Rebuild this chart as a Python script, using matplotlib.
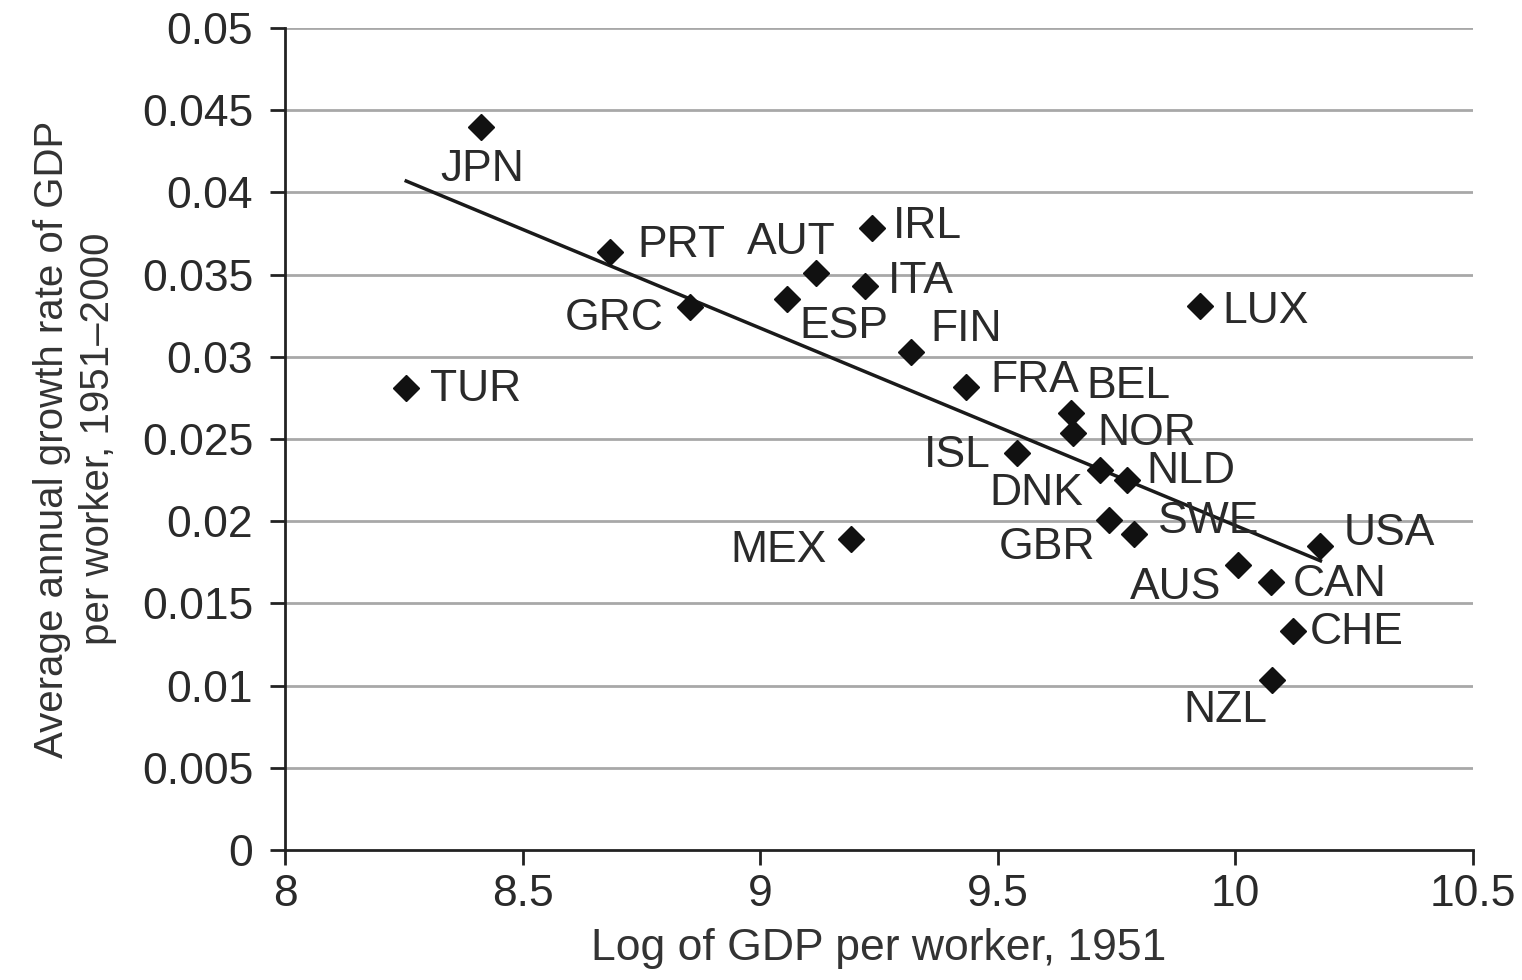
import numpy as np
import matplotlib.pyplot as plt

#* Data
countries = ['JPN', 'PRT', 'GRC', 'TUR', 'AUT', 'ESP', 'IRL', 'ITA', 'FIN', 'FRA',
             'LUX', 'BEL', 'NOR', 'ISL', 'DNK', 'NLD', 'GBR', 'SWE', 'MEX', 'USA',
             'AUS', 'CAN', 'CHE', 'NZL']
log_gdp_1951 = [8.413, 8.684, 8.853, 8.255, 9.118, 9.057, 9.236, 9.221, 9.318, 9.432,
                9.926, 9.655, 9.659, 9.541, 9.714, 9.771, 9.735, 9.787, 9.192, 10.179,
                10.006, 10.074, 10.122, 10.078]
growth = [0.0440, 0.03637, 0.03303, 0.0281, 0.0351, 0.03352, 0.03783, 0.0343, 0.0303, 0.02816,
          0.0331, 0.02658, 0.02536, 0.02415, 0.02311, 0.0225, 0.02007, 0.01922, 0.01892, 0.01849,
          0.01734, 0.0163, 0.01332, 0.01034]

X_TICKS = [8, 8.5, 9, 9.5, 10, 10.5]
X_TICK_LABELS = ['8', '8.5', '9', '9.5', '10', '10.5']
Y_TICKS = [0, 0.005, 0.01, 0.015, 0.02, 0.025, 0.03, 0.035, 0.04, 0.045, 0.05]
Y_TICK_LABELS = ['0', '0.005', '0.01', '0.015', '0.02', '0.025', '0.03', '0.035',
                 '0.04', '0.045', '0.05']

# label placement: (dx, dy) in points from the marker, ha
label_pos = {
    'JPN': (1, -31, 'center'), 'PRT': (20, 5, 'left'), 'GRC': (-19, -8, 'right'),
    'TUR': (17, -1, 'left'), 'AUT': (14, 22, 'right'), 'ESP': (9, -20, 'left'),
    'IRL': (15, 1, 'left'), 'ITA': (16, 3, 'left'), 'FIN': (14, 16, 'left'),
    'FRA': (18, 5, 'left'), 'LUX': (16, -4, 'left'), 'BEL': (11, 19, 'left'),
    'NOR': (17, 0, 'left'), 'ISL': (-19, -2, 'right'), 'DNK': (-12, -17, 'right'),
    'NLD': (14, 6, 'left'), 'GBR': (-10, -20, 'right'), 'SWE': (17, 9, 'left'),
    'MEX': (-18, -8, 'right'), 'USA': (17, 9, 'left'), 'AUS': (-12, -16, 'right'),
    'CAN': (16, -2, 'left'), 'CHE': (12, -1, 'left'), 'NZL': (-4, -22, 'right'),
}

TEXT_COLOUR = '#2a2a2a'
plt.rcParams['font.family'] = ['Liberation Sans', 'DejaVu Sans']

fig = plt.figure(figsize=(15.22, 9.8), dpi=100)
ax = fig.add_axes([0.1873, 0.1327, 0.7805, 0.8387])

# Gridlines
for yt in Y_TICKS[1:]:
    ax.axhline(yt, color='#a8a8a8', lw=2, zorder=0)

# Fitted line over the data range
x = np.array(log_gdp_1951)
y = np.array(growth)
slope, intercept = np.polyfit(x, y, 1)
xs = np.array([x.min(), x.max()])
ax.plot(xs, intercept + slope * xs, color='#1a1a1a', lw=2.5, zorder=2)

ax.plot(x, y, 'D', color='#111111', markersize=13, zorder=3)

for c, xi, yi in zip(countries, log_gdp_1951, growth):
    dx, dy, ha = label_pos[c]
    ax.annotate(c, (xi, yi), xytext=(dx, dy), textcoords='offset points',
                ha=ha, va='center', fontsize=32, color=TEXT_COLOUR, zorder=4)

ax.set_xlim(8, 10.5)
ax.set_ylim(0, 0.05)
ax.set_xticks(X_TICKS)
ax.set_xticklabels(X_TICK_LABELS)
ax.set_yticks(Y_TICKS)
ax.set_yticklabels(Y_TICK_LABELS)

for s in ['top', 'right']:
    ax.spines[s].set_visible(False)
for s in ['left', 'bottom']:
    ax.spines[s].set_color('#222222')
    ax.spines[s].set_linewidth(2)
ax.tick_params(axis='both', direction='out', length=11, width=2, color='#222222',
               labelsize=32, labelcolor=TEXT_COLOUR)
ax.tick_params(axis='y', pad=12)
ax.tick_params(axis='x', pad=6)

ax.set_xlabel('Log of GDP per worker, 1951', fontsize=32, color='#333333', labelpad=10)
ax.set_ylabel('Average annual growth rate of GDP\nper worker, 1951\u20132000',
              fontsize=29, color='#333333', labelpad=18, linespacing=1.25)

fig.savefig('out.png', dpi=100, facecolor='white')
